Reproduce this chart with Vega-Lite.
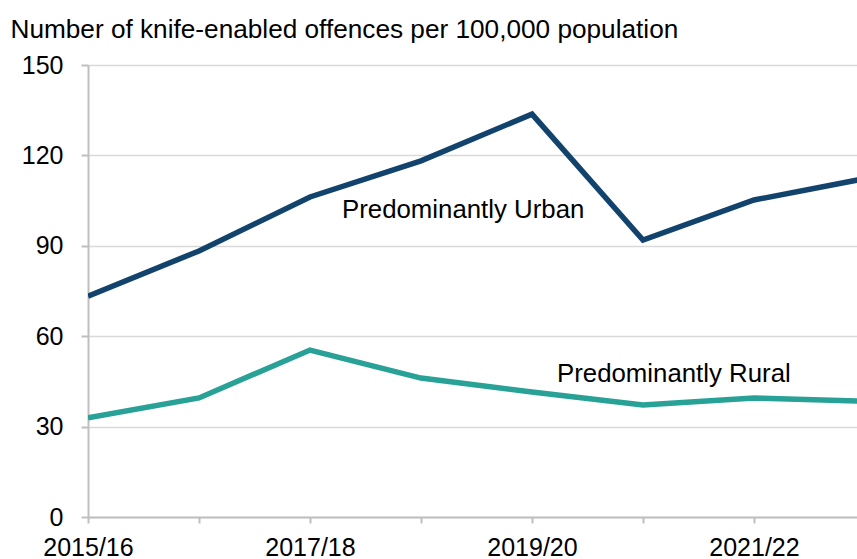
{
  "$schema": "https://vega.github.io/schema/vega-lite/v6.json",
  "width": 769,
  "height": 452,
  "autosize": {"type": "none"},
  "padding": {"left": 88, "top": 65, "right": 0, "bottom": 42},
  "background": "white",
  "config": {
    "view": {"stroke": null},
    "font": "Liberation Sans",
    "axis": {"labelFont": "Liberation Sans", "labelColor": "#000000", "labelFontSize": 25, "titleFont": "Liberation Sans", "titleColor": "#000000", "titleFontWeight": "normal"}
  },
  "data": {
    "values": [
      {"year": "2015/16", "series": "Predominantly Urban", "value": 73.3},
      {"year": "2016/17", "series": "Predominantly Urban", "value": 88.3},
      {"year": "2017/18", "series": "Predominantly Urban", "value": 106.2},
      {"year": "2018/19", "series": "Predominantly Urban", "value": 118.2},
      {"year": "2019/20", "series": "Predominantly Urban", "value": 133.7},
      {"year": "2020/21", "series": "Predominantly Urban", "value": 91.9},
      {"year": "2021/22", "series": "Predominantly Urban", "value": 105.2},
      {"year": "2022/23", "series": "Predominantly Urban", "value": 112.3},
      {"year": "2015/16", "series": "Predominantly Rural", "value": 32.9},
      {"year": "2016/17", "series": "Predominantly Rural", "value": 39.5},
      {"year": "2017/18", "series": "Predominantly Rural", "value": 55.4},
      {"year": "2018/19", "series": "Predominantly Rural", "value": 46.1},
      {"year": "2019/20", "series": "Predominantly Rural", "value": 41.5},
      {"year": "2020/21", "series": "Predominantly Rural", "value": 37.2},
      {"year": "2021/22", "series": "Predominantly Rural", "value": 39.5},
      {"year": "2022/23", "series": "Predominantly Rural", "value": 38.4}
    ]
  },
  "layer": [
    {
      "mark": {"type": "line", "strokeWidth": 5.5, "clip": true},
      "encoding": {
        "x": {
          "field": "year", "type": "ordinal",
          "scale": {"type": "point", "padding": 0, "range": [0, 777]},
          "axis": {
            "title": null, "labelAngle": 0,
            "domainColor": "#bfbfbf", "domainWidth": 2,
            "tickColor": "#bfbfbf", "tickWidth": 2, "tickSize": 6,
            "labelPadding": 12, "grid": false,
            "labelExpr": "indexof(['2015/16','2017/18','2019/20','2021/22'], datum.value) >= 0 ? datum.label : ''"
          }
        },
        "y": {
          "field": "value", "type": "quantitative",
          "scale": {"domain": [0, 150], "nice": false},
          "axis": {
            "values": [0, 30, 60, 90, 120, 150],
            "title": "Number of knife-enabled offences per 100,000 population",
            "titleAngle": 0, "titleAlign": "left", "titleBaseline": "alphabetic",
            "titleX": -78, "titleY": -28, "titleFontSize": 26.2,
            "domainColor": "#bfbfbf", "domainWidth": 2,
            "tickColor": "#bfbfbf", "tickWidth": 2, "tickSize": 7,
            "labelPadding": 18,
            "grid": true, "gridColor": "#d9d9d9", "gridWidth": 1.5
          }
        },
        "color": {
          "field": "series", "type": "nominal",
          "scale": {"domain": ["Predominantly Urban", "Predominantly Rural"], "range": ["#12436D", "#28A197"]},
          "legend": null
        }
      }
    },
    {
      "data": {
        "values": [
          {"year": "2017/18", "value": 101.9, "label": "Predominantly Urban"}
        ]
      },
      "mark": {"type": "text", "align": "left", "baseline": "middle", "fontSize": 25.8, "font": "Liberation Sans", "color": "#000000", "dx": 32},
      "encoding": {
        "x": {"field": "year", "type": "ordinal"},
        "y": {"field": "value", "type": "quantitative"},
        "text": {"field": "label"}
      }
    },
    {
      "data": {
        "values": [
          {"year": "2019/20", "value": 47.5, "label": "Predominantly Rural"}
        ]
      },
      "mark": {"type": "text", "align": "left", "baseline": "middle", "fontSize": 25.8, "font": "Liberation Sans", "color": "#000000", "dx": 25},
      "encoding": {
        "x": {"field": "year", "type": "ordinal"},
        "y": {"field": "value", "type": "quantitative"},
        "text": {"field": "label"}
      }
    }
  ]
}
